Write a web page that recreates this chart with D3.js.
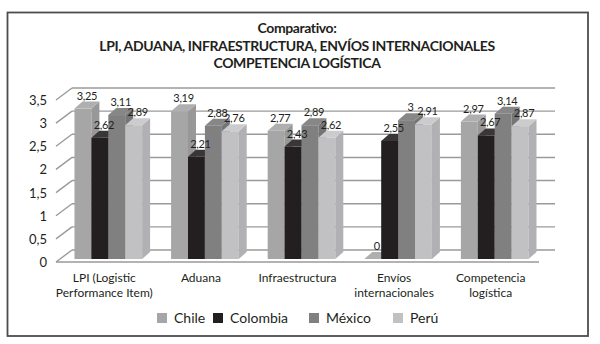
<!DOCTYPE html>
<html><head><meta charset="utf-8">
<script src="https://cdn.jsdelivr.net/npm/d3@7/dist/d3.min.js"></script>
<style>
body{margin:0;background:#fff;}
text{font-family:Lato,"Open Sans",sans-serif;fill:#231f20;}
</style></head>
<body><svg id="c" width="600" height="344"></svg>
<script>
const titleLines = ["Comparativo:", "LPI, ADUANA, INFRAESTRUCTURA, ENVÍOS INTERNACIONALES", "COMPETENCIA LOGÍSTICA"];
const categories = [["LPI (Logistic","Performance Item)"],["Aduana"],["Infraestructura"],["Envíos","internacionales"],["Competencia","logística"]];
const series = ["Chile","Colombia","México","Perú"];
const chile    = [3.25, 3.19, 2.77, 0,    2.97];
const colombia = [2.62, 2.21, 2.43, 2.55, 2.67];
const mexico   = [3.11, 2.88, 2.89, 3,    3.14];
const peru     = [2.89, 2.76, 2.62, 2.91, 2.87];
const yTicks = [0, 0.5, 1, 1.5, 2, 2.5, 3, 3.5];
const colors = ["#a6a6a6", "#231f20", "#808080", "#c1c1c4"];

const values = [chile, colombia, mexico, peru];
const svg = d3.select("#c");

// frame
svg.append("rect").attr("x",7.5).attr("y",12.5).attr("width",580.5).attr("height",323.5)
  .attr("fill","#fff").attr("stroke","#4d4d4d").attr("stroke-width",1.8);

// title
const tl = svg.append("g");
[33, 51, 68].forEach((y,i)=>{
  tl.append("text").attr("x",297).attr("y",y).attr("text-anchor","middle")
    .style("font-weight","bold").style("font-size","14px").style("letter-spacing","-0.4px").text(titleLines[i]);
});

const left = 56, right = 539;
const D = {dx:16, dy:-12};       // wall depth
const B0 = {dx:4, dy:-3};        // bar front offset
const BD = {dx:8, dy:-7};        // bar depth
const y = d3.scaleLinear().domain([0,3.5]).range([262,100]);
const catIdx = d3.range(categories.length);
const x0 = d3.scaleBand().domain(catIdx).range([left,right]).paddingInner(0.3).paddingOuter(0.15);
const x1 = d3.scaleBand().domain(series).range([0,x0.bandwidth()]);

// gridlines on back wall + side diagonals
const grid = svg.append("g").attr("stroke","#9a9a9a").attr("stroke-width",1.4).attr("fill","none");
yTicks.forEach(t=>{
  const yy = y(t);
  grid.append("line").attr("x1",left).attr("y1",yy).attr("x2",left+D.dx).attr("y2",yy+D.dy);
  grid.append("line").attr("x1",left+D.dx).attr("y1",yy+D.dy).attr("x2",right+D.dx).attr("y2",yy+D.dy);
});
// floor front edge
svg.append("line").attr("x1",left).attr("y1",y(0)).attr("x2",right).attr("y2",y(0))
  .attr("stroke","#9a9a9a").attr("stroke-width",1.4);

// y axis labels
const yAxis = d3.axisLeft(y).tickValues(yTicks).tickSize(0).tickPadding(0)
  .tickFormat(d=>d3.format(".1~f")(d).replace(".",","));
const ya = svg.append("g").attr("transform",`translate(${left-9},0)`).call(yAxis);
ya.select(".domain").remove();
ya.selectAll("text").style("font-size","13px").style("font-family","Lato,sans-serif").attr("fill","#231f20").attr("dy","0.35em");

// bars
const bars = svg.append("g");
const labels = svg.append("g");
catIdx.forEach(ci=>{
  series.forEach((s,si)=>{
    const v = values[si][ci];
    const col = d3.color(colors[si]);
    const xf = x0(ci) + x1(s) + B0.dx;
    const w = x1.bandwidth();
    const yt = y(v) + B0.dy, yb = y(0) + B0.dy;
    const g = bars.append("g");
    g.append("rect").attr("x",xf).attr("y",yt).attr("width",w).attr("height",yb-yt).attr("fill",col.formatHex());
    g.append("path").attr("d",`M${xf+w},${yt}L${xf+w+BD.dx},${yt+BD.dy}L${xf+w+BD.dx},${yb+BD.dy}L${xf+w},${yb}Z`)
      .attr("fill",col.darker(0.25).formatHex());
    g.append("path").attr("d",`M${xf},${yt}L${xf+BD.dx},${yt+BD.dy}L${xf+w+BD.dx},${yt+BD.dy}L${xf+w},${yt}Z`)
      .attr("fill",(si===1? "#3a3637" : col.brighter(0.15).formatHex()));
    labels.append("text").attr("x",xf+w/2+BD.dx/2).attr("y",yt+BD.dy-2).attr("text-anchor","middle")
      .style("font-size","11px").style("letter-spacing","-0.3px").text(d3.format(".2~f")(v).replace(".",","));
  });
});

// category labels
catIdx.forEach(ci=>{
  const t = svg.append("text").attr("text-anchor","middle").style("font-size","12px");
  categories[ci].forEach((line,li)=>{
    t.append("tspan").attr("x",x0(ci)+x0.bandwidth()/2).attr("y",282+li*15).text(line);
  });
});

// legend
const legX = [157, 213, 309, 393];
const lg = svg.append("g");
series.forEach((s,si)=>{
  lg.append("rect").attr("x",legX[si]).attr("y",313).attr("width",10).attr("height",10).attr("fill",colors[si]);
  lg.append("text").attr("x",legX[si]+17).attr("y",323).style("font-size",`14px`).text(s);
});
</script></body></html>
